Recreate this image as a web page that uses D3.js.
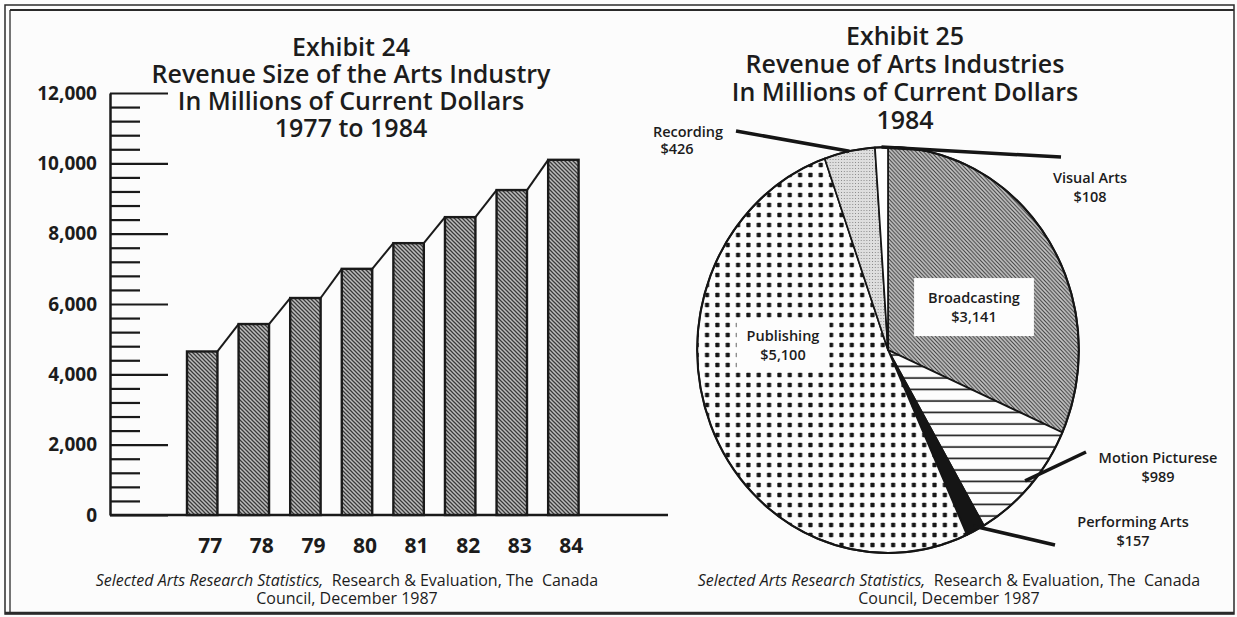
<!DOCTYPE html>
<html><head><meta charset="utf-8">
<script src="https://cdn.jsdelivr.net/npm/d3@7"></script>
<style>
html,body{margin:0;padding:0;background:#fcfcfc;}
svg{display:block;}
text{font-family:"Open Sans","Noto Sans",sans-serif;fill:#1c1c1c;white-space:pre;}
</style></head><body>
<svg id="chart" width="1237" height="617"></svg>
<script>
// ---- Exhibit 24 data ----
const years = ["77","78","79","80","81","82","83","84"];
const revenue = [4650, 5430, 6170, 7000, 7730, 8470, 9240, 10100];
const yTicks = [0, 2000, 4000, 6000, 8000, 10000, 12000];
const leftTitle = ["Exhibit 24", "Revenue Size of the Arts Industry", "In Millions of Current Dollars", "1977 to 1984"];
// ---- Exhibit 25 data ----
const industries = ["Broadcasting", "Motion Picturese", "Performing Arts", "Publishing", "Recording", "Visual Arts"];
const industryValues = [3141, 989, 157, 5100, 426, 108];
const industryLabels = ["$3,141", "$989", "$157", "$5,100", "$426", "$108"];
const rightTitle = ["Exhibit 25", "Revenue of Arts Industries", "In Millions of Current Dollars", "1984"];
// ---- source note ----
const sourceItalic = "Selected Arts Research Statistics,";
const sourceRest = "  Research & Evaluation, The  Canada";
const sourceLine2 = "Council, December 1987";

const svg = d3.select("#chart");
const defs = svg.append("defs");

// patterns
const hatch = defs.append("pattern").attr("id","hatch").attr("patternUnits","userSpaceOnUse").attr("width",4).attr("height",4);
hatch.append("rect").attr("width",4).attr("height",4).attr("fill","#bcbcbc");
hatch.append("path").attr("d","M-1,3 l2,2 M0,0 l4,4 M3,-1 l2,2").attr("stroke","#3a3a3a").attr("stroke-width",1.25);

const hatch2 = defs.append("pattern").attr("id","hatch2").attr("patternUnits","userSpaceOnUse").attr("width",4).attr("height",4);
hatch2.append("rect").attr("width",4).attr("height",4).attr("fill","#c4c4c4");
hatch2.append("path").attr("d","M-1,3 l2,2 M0,0 l4,4 M3,-1 l2,2").attr("stroke","#444").attr("stroke-width",1.15);

const stip = defs.append("pattern").attr("id","stip").attr("patternUnits","userSpaceOnUse").attr("width",3).attr("height",3);
stip.append("rect").attr("width",3).attr("height",3).attr("fill","#dedede");
stip.append("rect").attr("x",1).attr("y",1).attr("width",1).attr("height",1).attr("fill","#888");

const hlines = defs.append("pattern").attr("id","hlines").attr("patternUnits","userSpaceOnUse").attr("width",10).attr("height",11.5);
hlines.append("rect").attr("width",10).attr("height",11.5).attr("fill","#fdfdfd");
hlines.append("line").attr("x1",0).attr("x2",10).attr("y1",5).attr("y2",5).attr("stroke","#151515").attr("stroke-width",1.6);

const dots = defs.append("pattern").attr("id","dots").attr("patternUnits","userSpaceOnUse").attr("width",11).attr("height",10);
dots.append("rect").attr("width",11).attr("height",10).attr("fill","#fdfdfd");
dots.append("rect").attr("x",3.3).attr("y",2.8).attr("width",4.4).attr("height",4.4).attr("rx",0.8).attr("fill","#151515");

// ---- frame ----
const frame = svg.append("g").attr("stroke","#2a2a2a").attr("fill","none");
frame.append("rect").attr("x",5).attr("y",5).attr("width",1229).attr("height",609).attr("stroke-width",1.5);
frame.append("line").attr("x1",10).attr("x2",10).attr("y1",10).attr("y2",612).attr("stroke-width",1.3);
frame.append("line").attr("x1",10).attr("x2",1234).attr("y1",10).attr("y2",10).attr("stroke-width",1.8);
frame.append("line").attr("x1",5).attr("x2",1234).attr("y1",613).attr("y2",613).attr("stroke-width",2.5);

// ---- Exhibit 24: bar chart ----
const y = d3.scaleLinear().domain([0, 12000]).range([515, 93]);
const x = d3.scaleBand().domain(years).range([187, 578.6]).paddingInner(0.41).paddingOuter(0);
const bw = x.bandwidth();
const axisX = 110;
const left = svg.append("g");

// minor ticks
const minorVals = d3.range(400, 12000, 400).filter(v => v % 2000 !== 0);
const minorAxis = d3.axisRight(y).tickValues(minorVals).tickSize(30).tickSizeOuter(0).tickFormat("");
const gMin = left.append("g").attr("transform",`translate(${axisX},0)`).call(minorAxis);
gMin.select(".domain").remove();
gMin.selectAll(".tick line").attr("stroke","#1a1a1a").attr("stroke-width",2.2);

const majorAxis = d3.axisRight(y).tickValues(yTicks).tickSize(58).tickSizeOuter(0).tickFormat("");
const gMaj = left.append("g").attr("transform",`translate(${axisX},0)`).call(majorAxis);
gMaj.select(".domain").attr("stroke","#1a1a1a").attr("stroke-width",2.5);
gMaj.selectAll(".tick line").attr("stroke","#1a1a1a").attr("stroke-width",2.2);

const labelAxis = d3.axisLeft(y).tickValues(yTicks).tickSize(0).tickPadding(13).tickFormat(d3.format(","));
const gLab = left.append("g").attr("transform",`translate(${axisX},0)`).call(labelAxis);
gLab.select(".domain").remove();
gLab.selectAll("text").attr("font-family",'"Open Sans",sans-serif').attr("font-size",19).attr("font-weight",700).attr("fill","#1c1c1c");

// x axis baseline
left.append("line").attr("x1",axisX).attr("x2",668).attr("y1",y(0)).attr("y2",y(0)).attr("stroke","#1a1a1a").attr("stroke-width",2.5);

// connectors
const barData = years.map((yr,i)=>({yr, v: revenue[i]}));
left.append("g").selectAll("line").data(d3.pairs(barData)).join("line")
  .attr("x1", d => x(d[0].yr) + bw).attr("y1", d => y(d[0].v))
  .attr("x2", d => x(d[1].yr)).attr("y2", d => y(d[1].v))
  .attr("stroke","#1a1a1a").attr("stroke-width",2);

// bars
left.append("g").selectAll("rect").data(barData).join("rect")
  .attr("x", d => x(d.yr)).attr("y", d => y(d.v))
  .attr("width", bw).attr("height", d => y(0) - y(d.v))
  .attr("fill","url(#hatch)").attr("stroke","#1a1a1a").attr("stroke-width",2.4);

// x labels
left.append("g").selectAll("text").data(years).join("text")
  .attr("x", d => x(d) + bw/2 + 8).attr("y", 553)
  .attr("text-anchor","middle").attr("font-size",21).attr("font-weight",700).text(d => d);

// title
left.append("g").selectAll("text").data(leftTitle).join("text")
  .attr("x", 351).attr("y", (d,i) => 56 + i*27)
  .attr("text-anchor","middle").attr("font-size",25).attr("font-weight",600).text(d => d);

function source(g, cx){
  const t = g.append("text").attr("x",cx).attr("y",586).attr("text-anchor","middle").attr("font-size",16);
  t.append("tspan").attr("font-style","italic").text(sourceItalic);
  t.append("tspan").text(sourceRest);
  g.append("text").attr("x",cx).attr("y",604).attr("text-anchor","middle").attr("font-size",16).text(sourceLine2);
}
source(left, 347);

// ---- Exhibit 25: pie (slightly squeezed horizontally, as in the scan) ----
const right = svg.append("g");
const cx = 888, cy = 350, R = 203, sx = 0.94;
const fills = ["url(#hatch2)", "url(#hlines)", "#151515", "url(#dots)", "url(#stip)", "#fdfdfd"];
const pieData = industries.map((n,i)=>({name:n, v:industryValues[i], lab:industryLabels[i], fill:fills[i]}));
const pie = d3.pie().sort(null).value(d => d.v).startAngle(0).endAngle(2*Math.PI);
const arcs = pie(pieData);
const arc = d3.arc().innerRadius(0).outerRadius(R);
const pg = right.append("g").attr("transform",`translate(${cx},${cy}) scale(${sx},1)`);
pg.selectAll("path").data(arcs).join("path")
  .attr("d", arc).attr("fill", d => d.data.fill)
  .attr("stroke","#151515").attr("stroke-width",1.8).attr("stroke-linejoin","round");
pg.append("circle").attr("r",R).attr("fill","none").attr("stroke","#151515").attr("stroke-width",2.2);

function pt(a, r){ return [cx + sx*r*Math.sin(a), cy - r*Math.cos(a)]; }
const mid = d => (d.startAngle + d.endAngle)/2;
const byName = Object.fromEntries(arcs.map(a => [a.data.name, a]));

// leader lines
const leaders = [
  {name:"Recording", r:R, end:[736,131]},
  {name:"Visual Arts", r:R, end:[1061,157]},
  {name:"Motion Picturese", r:196, end:[1086,452]},
  {name:"Performing Arts", r:198, end:[1055,545]}
];
right.append("g").selectAll("line").data(leaders).join("line")
  .attr("x1", d => pt(mid(byName[d.name]), d.r)[0]).attr("y1", d => pt(mid(byName[d.name]), d.r)[1])
  .attr("x2", d => d.end[0]).attr("y2", d => d.end[1])
  .attr("stroke","#151515").attr("stroke-width",3.5);

// labels
const labelPos = {
  "Broadcasting": {x:974, y:298, box:[14,10]},
  "Publishing": {x:783, y:336, box:[10,5]},
  "Visual Arts": {x:1090, y:178},
  "Motion Picturese": {x:1158, y:458},
  "Performing Arts": {x:1133, y:522},
  "Recording": {x:688, y:132, x2:677, gap:17}
};
arcs.forEach(a => {
  const p = labelPos[a.data.name];
  const g = right.append("g");
  const gap = p.gap || 19;
  const t1 = g.append("text").attr("x",p.x).attr("y",p.y).attr("dy","0.35em").attr("text-anchor","middle")
    .attr("font-size",14.5).attr("font-weight",600).text(a.data.name);
  const t2 = g.append("text").attr("x",p.x2 || p.x).attr("y",p.y+gap).attr("dy","0.35em").attr("text-anchor","middle")
    .attr("font-size",14.5).attr("font-weight",600).text(a.data.lab);
  if (p.box){
    const b1 = t1.node().getBBox(), b2 = t2.node().getBBox();
    const x0 = Math.min(b1.x,b2.x) - p.box[0], x1 = Math.max(b1.x+b1.width, b2.x+b2.width) + p.box[0];
    const y0 = b1.y - p.box[1], y1 = b2.y + b2.height + p.box[1];
    g.insert("rect","text").attr("x",x0).attr("y",y0).attr("width",x1-x0).attr("height",y1-y0).attr("fill","#fdfdfd");
  }
});

right.append("g").selectAll("text").data(rightTitle).join("text")
  .attr("x", 905).attr("y", (d,i) => 45 + i*28)
  .attr("text-anchor","middle").attr("font-size",25).attr("font-weight",600).text(d => d);

source(right, 949);
</script>
</body></html>
